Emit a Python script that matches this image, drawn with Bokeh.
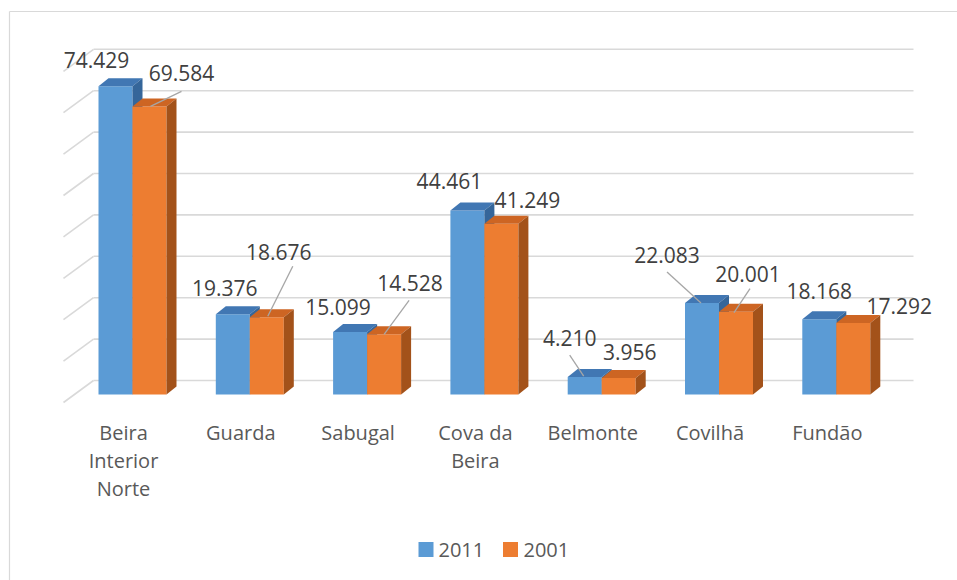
from bokeh.plotting import figure
from bokeh.models import Range1d
from bokeh.core.properties import value
from bokeh.embed import file_html
from bokeh.resources import INLINE

# ---------------- data ----------------
categories = ["Beira Interior Norte", "Guarda", "Sabugal", "Cova da Beira",
              "Belmonte", "Covilhã", "Fundão"]
category_lines = [["Beira", "Interior", "Norte"], ["Guarda"], ["Sabugal"],
                  ["Cova da", "Beira"], ["Belmonte"], ["Covilhã"], ["Fundão"]]
series = ["2011", "2001"]
values_2011 = [74.429, 19.376, 15.099, 44.461, 4.210, 22.083, 18.168]
values_2001 = [69.584, 18.676, 14.528, 41.249, 3.956, 20.001, 17.292]
gridline_values = [0, 10, 20, 30, 40, 50, 60, 70, 80]

# ---------------- layout / style ----------------
W, H = 957, 580
SX = 117.3          # px per category
K = 4.14            # px per value unit
BASE_PX = 394       # px of bar front bottom
FIRST_PX = 132      # px of first category centre
BAR_PX = 34         # bar width in px
DEPTH_DX, DEPTH_DY = 10, 8      # bar depth in px
WALL_DY = 14                    # back wall shift up in px
WALL_LEFT, WALL_RIGHT = 93, 913
SIDE_FRONT_X, SIDE_DY = 63, 22

BLUE, BLUE_TOP, BLUE_SIDE = "#5B9BD5", "#4177B3", "#35669A"
ORANGE, ORANGE_TOP, ORANGE_SIDE = "#ED7D31", "#CD6523", "#A3521A"
GRID = "#D9D9D9"
FONT = "Open Sans"

x_start = -FIRST_PX / SX
x_end = x_start + W / SX
y_end = BASE_PX / K
y_start = y_end - H / K


def xd(px):
    return x_start + px / SX


def dx(px):
    return px / SX


def dy(px):
    return px / K


p = figure(width=W, height=H, output_backend="svg", toolbar_location=None,
           x_range=Range1d(x_start, x_end), y_range=Range1d(y_start, y_end),
           min_border=0)
p.axis.visible = False
p.xgrid.visible = False
p.ygrid.visible = False
p.outline_line_color = None
p.background_fill_color = "white"
p.border_fill_color = "white"

# chart border (left / top)
p.segment(x0=[xd(9), xd(9)], y0=[y_end - dy(11), y_end - dy(11)],
          x1=[xd(9), xd(W)], y1=[y_start, y_end - dy(11)],
          line_color=GRID, line_width=1.2)

# back wall gridlines and side wall diagonals
gy = [g + dy(WALL_DY) for g in gridline_values]
p.segment(x0=[xd(WALL_LEFT)] * len(gy), y0=gy, x1=[xd(WALL_RIGHT)] * len(gy), y1=gy,
          line_color=GRID, line_width=1.6)
p.segment(x0=[xd(SIDE_FRONT_X)] * len(gy), y0=[g - dy(SIDE_DY) for g in gy],
          x1=[xd(WALL_LEFT)] * len(gy), y1=gy, line_color=GRID, line_width=1.6)

# 3D bars
hw = dx(BAR_PX) / 2
ddx, ddy = dx(DEPTH_DX), dy(DEPTH_DY)


def draw_bars(vals, shift, c_front, c_top, c_side):
    lefts = [i + shift - hw for i in range(len(vals))]
    rights = [i + shift + hw for i in range(len(vals))]
    p.quad(left=lefts, right=rights, bottom=[0] * len(vals), top=vals,
           fill_color=c_front, line_color=None)
    top_xs = [[l, r, r + ddx, l + ddx] for l, r in zip(lefts, rights)]
    top_ys = [[v, v, v + ddy, v + ddy] for v in vals]
    p.patches(top_xs, top_ys, fill_color=c_top, line_color=None)
    side_xs = [[r, r + ddx, r + ddx, r] for r in rights]
    side_ys = [[0, ddy, v + ddy, v] for v in vals]
    p.patches(side_xs, side_ys, fill_color=c_side, line_color=None)


draw_bars(values_2011, -hw, BLUE, BLUE_TOP, BLUE_SIDE)
draw_bars(values_2001, hw, ORANGE, ORANGE_TOP, ORANGE_SIDE)

# data labels (anchored on bar front-top centre, offsets in px)
off_2011 = [(-19, -26), (-8, -26), (-12, -25), (-18, -29), (-15, -39), (-35, -48), (0, -28)]
off_2001 = [(32, -33), (12, -65), (26, -51), (26, -24), (11, -26), (12, -38), (46, -17)]
for vals, shift, offs in ((values_2011, -hw, off_2011), (values_2001, hw, off_2001)):
    p.text(x=[i + shift for i in range(len(vals))], y=vals,
           text=[f"{v:.3f}" for v in vals],
           x_offset=[o[0] for o in offs], y_offset=[o[1] for o in offs],
           text_font=value(FONT), text_font_size="21px", text_color="#404040",
           text_align="center", text_baseline="middle")

# leader lines: (series index, category index, start offset px, end offset px)
leaders = [(1, 0, (1, 0), (32, -15)),
           (1, 1, (1, -1), (26, -51)),
           (1, 2, (0, 0), (25, -34)),
           (0, 4, (-15, -22), (-1, -1)),
           (0, 5, (-35, -31), (-1, 0)),
           (1, 5, (14, -23), (-2, 1))]
lx0, ly0, lx1, ly1 = [], [], [], []
for s, c, a, b in leaders:
    vals = values_2011 if s == 0 else values_2001
    cx = c + (-hw if s == 0 else hw)
    lx0.append(cx + dx(a[0])); ly0.append(vals[c] - dy(a[1]))
    lx1.append(cx + dx(b[0])); ly1.append(vals[c] - dy(b[1]))
p.segment(x0=lx0, y0=ly0, x1=lx1, y1=ly1, line_color="#A6A6A6", line_width=1.3)

# category labels
tx, ty, tt, toy = [], [], [], []
for i, lines in enumerate(category_lines):
    for j, line in enumerate(lines):
        tx.append(i); ty.append(0); tt.append(line); toy.append(38 + 28 * j)
p.text(x=tx, y=ty, text=tt, x_offset=-9, y_offset=toy,
       text_font=value(FONT), text_font_size="20px", text_color="#595959",
       text_align="center", text_baseline="middle")

# legend
leg_y = y_end - dy(549)
p.scatter(x=[xd(425.5), xd(510)], y=[leg_y, leg_y], marker="square", size=15,
          fill_color=[BLUE, ORANGE], line_color=None)
p.text(x=[xd(438), xd(523)], y=[leg_y, leg_y], text=series,
       text_font=value(FONT), text_font_size="20px", text_color="#595959",
       text_align="left", text_baseline="middle")

open("out.html", "w").write(file_html(p, INLINE))
